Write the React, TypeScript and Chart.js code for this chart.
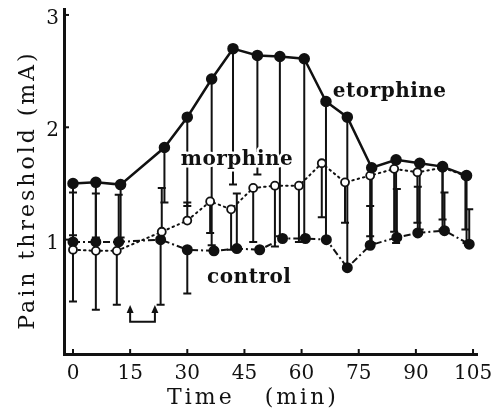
import React, { useEffect, useRef } from "react";
import { Chart, registerables } from "chart.js";

Chart.register(...registerables);

// ---- data ----
const xTickValues = [0, 15, 30, 45, 60, 75, 90, 105];
const yTickValues = [1, 2, 3];

const etorphineTimes = [0, 6, 12.5, 24, 30, 36.4, 42, 48.4, 54.3, 60.7, 66.4, 72, 78.4, 84.8, 91, 97, 103.3];
const etorphineMean = [1.5, 1.51, 1.49, 1.82, 2.09, 2.43, 2.7, 2.64, 2.63, 2.61, 2.23, 2.09, 1.64, 1.71, 1.68, 1.65, 1.57];
const etorphineLow = [1.04, 1.02, 1.02, 1.33, 1.3, 0.95, 1.49, 1.58, 1.03, 1.02, 1.0, 0.75, 0.97, 0.97, 1.09, 1.09, 0.97];
const etorphineHigh = [null, null, null, null, null, null, null, null, null, null, null, null, null, null, null, null, null];

const morphineTimes = [0, 6, 11.5, 23.3, 30, 36, 41.5, 47.3, 53, 59.3, 65.3, 71.4, 78, 84.3, 90.4, 97, 103];
const morphineMean = [0.91, 0.9, 0.9, 1.07, 1.17, 1.34, 1.27, 1.46, 1.48, 1.48, 1.68, 1.51, 1.57, 1.63, 1.6, 1.64, 1.57];
const morphineLow = [0.45, 0.375, 0.42, null, null, 1.06, 0.91, 0.98, 0.94, 0.98, 1.2, 1.15, 1.03, 1.07, 1.15, 1.18, 1.09];
const morphineHigh = [null, null, null, 1.46, 1.33, null, null, null, null, null, null, null, null, null, null, null, null];

const controlTimes = [0, 6, 12, 23, 30, 37, 43, 49, 55, 61, 66.5, 72, 78, 85, 90.5, 97.5, 104];
const controlMean = [0.98, 0.98, 0.98, 1.0, 0.91, 0.9, 0.92, 0.91, 1.01, 1.01, 1.0, 0.75, 0.95, 1.02, 1.06, 1.08, 0.96];
const controlLow = [null, null, null, 0.42, 0.52, null, null, null, null, null, null, null, null, null, null, null, null];
const controlHigh = [1.42, 1.41, 1.4, null, null, null, 1.41, null, null, null, null, null, 1.3, 1.45, 1.47, 1.42, 1.27];

const seriesNames = ["etorphine", "morphine", "control"];
const injectionTimes = [15, 21.5];

const xTitle = "Time   (min)";
const yTitle = "Pain threshold (mA)";

// ---- styling / layout ----
const FONT = '"DejaVu Serif", "Liberation Serif", serif';
const INK = "#111";
const labelAnchorX = [68.2, 28.3, 35.2];
const labelAnchorY = [2.32, 1.71, 0.66];

const toPoints = (ts: number[], vs: number[]) => ts.map((t, i) => ({ x: t, y: vs[i] }));

const errorBarPlugin = {
  id: "errorBars",
  beforeDatasetsDraw(chart: any) {
    const { ctx, scales } = chart;
    const xs = scales.x;
    const ys = scales.y;
    ctx.save();
    ctx.strokeStyle = INK;
    ctx.lineWidth = 2;
    ctx.lineCap = "butt";
    chart.data.datasets.forEach((ds: any) => {
      ds.data.forEach((p: any, i: number) => {
        const x = xs.getPixelForValue(p.x);
        const y = ys.getPixelForValue(p.y);
        [ds.errLow?.[i], ds.errHigh?.[i]].forEach((v: any) => {
          if (v === null || v === undefined) return;
          const ye = ys.getPixelForValue(v);
          ctx.beginPath();
          ctx.moveTo(x, y);
          ctx.lineTo(x, ye);
          ctx.moveTo(x - 4, ye);
          ctx.lineTo(x + 4, ye);
          ctx.stroke();
        });
      });
    });
    ctx.restore();
  },
  afterDatasetsDraw(chart: any) {
    const { ctx, scales } = chart;
    const xs = scales.x;
    const ys = scales.y;
    ctx.save();
    ctx.font = `bold 20px ${FONT}`;
    (ctx as any).letterSpacing = "0.5px";
    ctx.textAlign = "left";
    ctx.textBaseline = "middle";
    seriesNames.forEach((name, i) => {
      const x = xs.getPixelForValue(labelAnchorX[i]);
      const y = ys.getPixelForValue(labelAnchorY[i]);
      ctx.strokeStyle = "#fff";
      ctx.lineWidth = 5;
      ctx.lineJoin = "round";
      ctx.strokeText(name, x, y);
      ctx.fillStyle = INK;
      ctx.fillText(name, x, y);
    });
    ctx.restore();
  },
  afterDraw(chart: any) {
    const { ctx, scales, chartArea } = chart;
    const xs = scales.x;
    const ys = scales.y;
    ctx.save();
    ctx.strokeStyle = INK;
    ctx.lineWidth = 2;
    // inward ticks
    xTickValues.forEach((v) => {
      const x = xs.getPixelForValue(v);
      ctx.beginPath();
      ctx.moveTo(x, chartArea.bottom);
      ctx.lineTo(x, chartArea.bottom - 5);
      ctx.stroke();
    });
    yTickValues.forEach((v) => {
      const y = ys.getPixelForValue(v);
      ctx.beginPath();
      ctx.moveTo(chartArea.left, y);
      ctx.lineTo(chartArea.left + 5, y);
      ctx.stroke();
    });
    // injection bracket with arrows
    const x1 = xs.getPixelForValue(injectionTimes[0]);
    const x2 = xs.getPixelForValue(injectionTimes[1]);
    const yb = ys.getPixelForValue(0.27);
    const yt = ys.getPixelForValue(0.4);
    ctx.lineWidth = 2;
    ctx.beginPath();
    ctx.moveTo(x1, yt + 4);
    ctx.lineTo(x1, yb);
    ctx.lineTo(x2, yb);
    ctx.lineTo(x2, yt + 4);
    ctx.stroke();
    ctx.fillStyle = INK;
    [x1, x2].forEach((x) => {
      ctx.beginPath();
      ctx.moveTo(x, yt - 2);
      ctx.lineTo(x - 3.5, yt + 6);
      ctx.lineTo(x + 3.5, yt + 6);
      ctx.closePath();
      ctx.fill();
    });
    // axis titles
    ctx.font = `22px ${FONT}`;
    (ctx as any).letterSpacing = "3px";
    ctx.textAlign = "center";
    ctx.textBaseline = "middle";
    ctx.fillText(xTitle, 253, 398);
    ctx.translate(28, 190);
    ctx.rotate(-Math.PI / 2);
    ctx.fillText(yTitle, 0, 0);
    ctx.restore();
  },
};

export default function App() {
  const ref = useRef<HTMLCanvasElement | null>(null);
  useEffect(() => {
    if (!ref.current) return;
    const chart = new Chart(ref.current, {
      type: "line",
      data: {
        datasets: [
          {
            label: seriesNames[0],
            data: toPoints(etorphineTimes, etorphineMean),
            errLow: etorphineLow,
            errHigh: etorphineHigh,
            borderColor: INK,
            borderWidth: 2.5,
            pointRadius: 4.5,
            pointBackgroundColor: INK,
            pointBorderColor: INK,
            tension: 0,
          } as any,
          {
            label: seriesNames[1],
            data: toPoints(morphineTimes, morphineMean),
            errLow: morphineLow,
            errHigh: morphineHigh,
            borderColor: INK,
            borderWidth: 2,
            borderDash: [1.5, 4],
            borderCapStyle: "round",
            pointRadius: 4,
            pointBackgroundColor: "#fff",
            pointBorderColor: INK,
            pointBorderWidth: 1.8,
            tension: 0,
          } as any,
          {
            label: seriesNames[2],
            data: toPoints(controlTimes, controlMean),
            errLow: controlLow,
            errHigh: controlHigh,
            borderColor: INK,
            borderWidth: 2,
            borderDash: [7, 3, 2, 3],
            pointRadius: 4.5,
            pointBackgroundColor: INK,
            pointBorderColor: INK,
            tension: 0,
          } as any,
        ],
      },
      options: {
        animation: false,
        responsive: false,
        devicePixelRatio: 1,
        layout: { padding: { left: 0, top: 9, right: 15, bottom: 0 } },
        plugins: { legend: { display: false }, tooltip: { enabled: false } },
        scales: {
          x: {
            type: "linear",
            min: -2.36,
            max: 106.04,
            grid: { display: false, drawTicks: false },
            border: { display: true, width: 3, color: INK },
            ticks: { color: INK, font: { family: FONT, size: 20 }, padding: 8, maxRotation: 0, autoSkip: false },
            afterBuildTicks: (s: any) => {
              s.ticks = xTickValues.map((v) => ({ value: v }));
            },
            afterFit: (s: any) => {
              s.height = 58;
              s.paddingLeft = 0;
              s.paddingRight = 0;
            },
          },
          y: {
            type: "linear",
            min: -0.018,
            max: 3.053,
            grid: { display: false, drawTicks: false },
            border: { display: true, width: 3, color: INK },
            ticks: { color: INK, font: { family: FONT, size: 20 }, padding: 5, labelOffset: 4, autoSkip: false },
            afterBuildTicks: (s: any) => {
              s.ticks = yTickValues.map((v) => ({ value: v }));
            },
            afterFit: (s: any) => {
              s.width = 64;
              s.paddingTop = 0;
              s.paddingBottom = 0;
            },
          },
        },
      },
      plugins: [errorBarPlugin],
    } as any);
    return () => chart.destroy();
  }, []);
  return (
    <div style={{ position: "absolute", left: 0, top: 0, width: 492, height: 412, background: "#fff" }}>
      <canvas ref={ref} width={492} height={412} />
    </div>
  );
}
